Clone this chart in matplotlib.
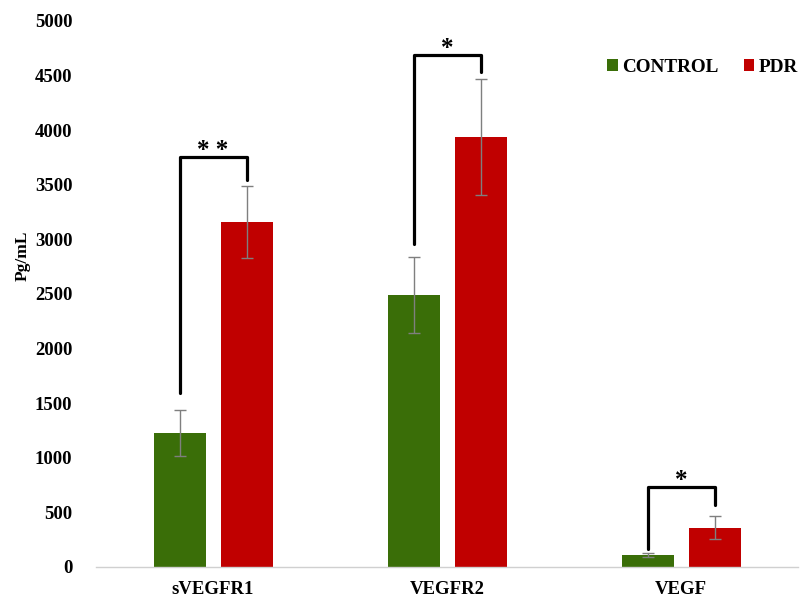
import matplotlib
matplotlib.use("Agg")
import matplotlib.pyplot as plt
import numpy as np

categories = ["sVEGFR1", "VEGFR2", "VEGF"]
control = [1230, 2490, 110]
control_err = [210, 350, 22]
pdr = [3160, 3940, 360]
pdr_err = [330, 530, 105]
yticks = [0, 500, 1000, 1500, 2000, 2500, 3000, 3500, 4000, 4500, 5000]

# significance brackets: (group, left foot, top, right foot, label)
brackets = [
    (0, 1590, 3755, 3545, "* *"),
    (1, 2960, 4690, 4535, "*"),
    (2, 165, 735, 570, "*"),
]

plt.rcParams["font.family"] = ["Liberation Serif", "DejaVu Serif"]
plt.rcParams["font.weight"] = "bold"

fig = plt.figure(figsize=(8.0, 6.01), dpi=100)
ax = fig.add_axes([0.12, 0.0566, 0.8775, 0.9085])

x = np.arange(len(categories))
w = 52 / 234
off = 33.5 / 234
green = "#3A6E08"
red = "#C00000"
ax.bar(x - off, control, w, color=green, label="CONTROL", zorder=2)
ax.bar(x + off, pdr, w, color=red, label="PDR", zorder=2)
ax.errorbar(x - off, control, yerr=control_err, fmt="none", ecolor="#7f7f7f",
            elinewidth=1.0, capsize=4, capthick=1.0, zorder=3)
ax.errorbar(x + off, pdr, yerr=pdr_err, fmt="none", ecolor="#7f7f7f",
            elinewidth=1.0, capsize=4, capthick=1.0, zorder=3)

for g, yl, yt, yr, lab in brackets:
    xl, xr = g - off, g + off
    ax.plot([xl, xl, xr, xr], [yl, yt, yt, yr], color="black", lw=2.3,
            solid_joinstyle="round", solid_capstyle="round", zorder=4)
    ax.text(g, yt - 45, lab, ha="center", va="bottom", fontsize=18,
            fontweight="bold", color="black")

ax.set_xlim(-0.5, 2.5)
ax.set_ylim(0, 5000)
ax.set_xticks(x)
ax.set_xticklabels(categories, fontsize=13.5, fontweight="bold")
ax.set_yticks(yticks)
ax.set_yticklabels([str(v) for v in yticks], fontsize=13.5, fontweight="bold")
ax.tick_params(length=0)
ax.tick_params(axis="y", pad=17)
ax.tick_params(axis="x", pad=10)
for s in ["top", "right", "left"]:
    ax.spines[s].set_visible(False)
ax.spines["bottom"].set_color("#d0d0d0")
ax.spines["bottom"].set_linewidth(1.0)
ax.set_ylabel("Pg/mL", fontsize=12.5, fontweight="bold")
ax.yaxis.set_label_coords(-0.093, 0.57)

leg = ax.legend(loc="upper left", bbox_to_anchor=(0.709, 0.955), ncol=2,
                frameon=False, handlelength=0.55, handleheight=0.55,
                handletextpad=0.25, columnspacing=1.3, borderpad=0.2,
                prop={"weight": "bold", "size": 13.8})

fig.savefig("out.png", dpi=100)
